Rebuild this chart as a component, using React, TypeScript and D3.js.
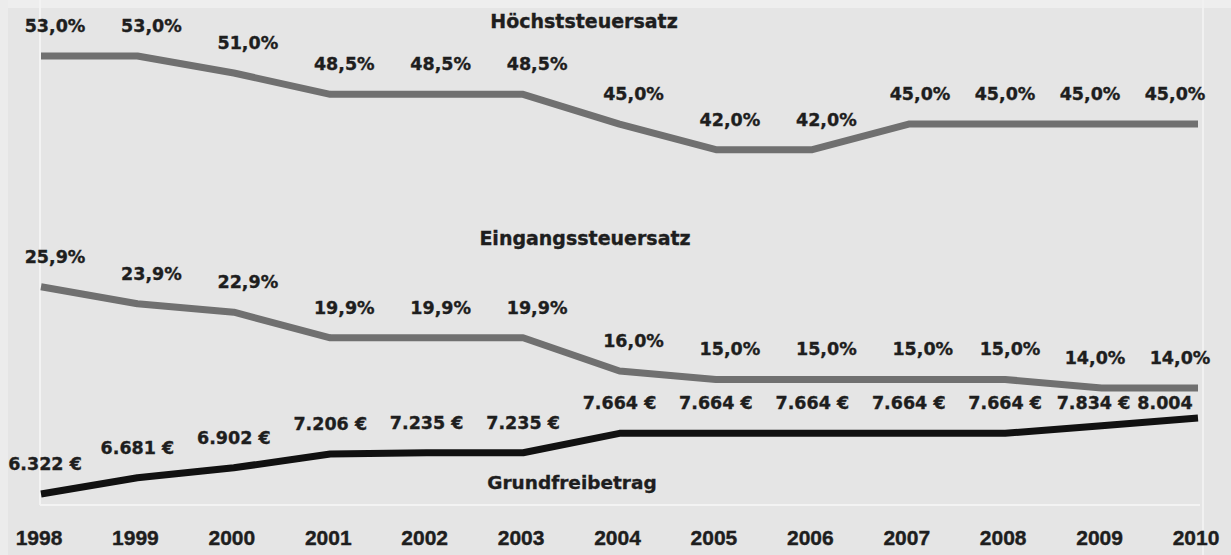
import React from "react";
import * as d3 from "d3";

const years = ["1998","1999","2000","2001","2002","2003","2004","2005","2006","2007","2008","2009","2010"];
const hoechst = [53.0, 53.0, 51.0, 48.5, 48.5, 48.5, 45.0, 42.0, 42.0, 45.0, 45.0, 45.0, 45.0];
const eingang = [25.9, 23.9, 22.9, 19.9, 19.9, 19.9, 16.0, 15.0, 15.0, 15.0, 15.0, 14.0, 14.0];
const grundfrei = [6322, 6681, 6902, 7206, 7235, 7235, 7664, 7664, 7664, 7664, 7664, 7834, 8004];
const seriesNames = ["Höchststeuersatz", "Eingangssteuersatz", "Grundfreibetrag"];

const W = 1231, H = 555;
const LABEL_FONT = "'DejaVu Sans', sans-serif";
const YEAR_FONT = "'Liberation Sans', Arial, sans-serif";
const TXT = "#1e1e1e";

// place label centres: natural position, then push left (right-to-left) to keep a gap
function placeLabels(natural: number[], widths: number[], rightEdge: number, gap: number) {
  const out = natural.slice();
  const n = out.length;
  if (out[n - 1] + widths[n - 1] / 2 > rightEdge) out[n - 1] = rightEdge - widths[n - 1] / 2;
  for (let i = n - 2; i >= 0; i--) {
    const limit = out[i + 1] - widths[i + 1] / 2 - gap;
    if (out[i] + widths[i] / 2 > limit) out[i] = limit - widths[i] / 2;
  }
  return out;
}

export default function App() {
  const x = d3.scalePoint<string>().domain(years).range([41, 1198]);
  const yPct = d3.scaleLinear().domain([14, 53]).range([388, 56]);
  const yEur = d3.scaleLinear().domain([6322, 8004]).range([494, 418]);

  const fmtPct = (v: number) => v.toFixed(1).replace(".", ",") + "%";
  const fmtEur = (v: number) => d3.format(",")(v).replace(/,/g, ".") + " €";

  const linePct = d3.line<number>().x((_, i) => x(years[i])!).y((d) => yPct(d));
  const lineEur = d3.line<number>().x((_, i) => x(years[i])!).y((d) => yEur(d));

  const textStyle = {
    fontFamily: LABEL_FONT, fontWeight: "bold" as const, fontSize: 17.5, fill: TXT,
    stroke: TXT, strokeWidth: 0.35,
  };

  const pctLabels = (vals: number[], key: string, rightEdge: number) => {
    const strs = vals.map(fmtPct);
    const widths = strs.map(() => 62);
    const xs = placeLabels(vals.map((_, i) => x(years[i])! + 14), widths, rightEdge, 23);
    return vals.map((v, i) => (
      <text key={key + i} x={xs[i]} y={yPct(v) - 30} textAnchor="middle" dominantBaseline="central"
        {...textStyle}>{strs[i]}</text>
    ));
  };

  const eurStrs = grundfrei.map((v, i) => (i === grundfrei.length - 1 ? fmtEur(v).replace(" €", "") : fmtEur(v)));
  const eurWidths = eurStrs.map((s) => (s.length > 5 ? 73 : 62));
  const eurXs = placeLabels(grundfrei.map((_, i) => x(years[i])! + (i === 0 ? 4 : 0)), eurWidths, 1196, 4);
  const eurLabels = grundfrei.map((v, i) => {
    const ly = Math.max(yEur(v) - 30, yPct(eingang[i]) + 15);
    return (
      <text key={"e" + i} x={eurXs[i]} y={ly} textAnchor="middle" dominantBaseline="central"
        {...textStyle}>{eurStrs[i]}</text>
    );
  });

  return (
    <svg width={W} height={H} style={{ position: "absolute", left: 0, top: 0, display: "block" }}>
      <rect x={0} y={0} width={W} height={H} fill="#e5e5e5" />
      <rect x={0} y={0} width={W} height={8} fill="#eeeeee" />
      <rect x={0} y={0} width={8} height={H} fill="#ececec" />
      <line x1={40} x2={40} y1={0} y2={505} stroke="#f3f3f3" strokeWidth={2} />
      <line x1={1203} x2={1203} y1={0} y2={555} stroke="#f1f1f1" strokeWidth={2} />
      <line x1={40} x2={1200} y1={505} y2={505} stroke="#f3f3f3" strokeWidth={2} />

      <path d={linePct(hoechst)!} fill="none" stroke="#707070" strokeWidth={7} strokeLinejoin="round" />
      <path d={linePct(eingang)!} fill="none" stroke="#707070" strokeWidth={7} strokeLinejoin="round" />
      <path d={lineEur(grundfrei)!} fill="none" stroke="#111" strokeWidth={7} strokeLinejoin="round" />

      {pctLabels(hoechst, "h", 1206)}
      {pctLabels(eingang, "g", 1211)}
      {eurLabels}

      <text x={584} y={21} textAnchor="middle" dominantBaseline="central" {...textStyle} fontSize={19}>{seriesNames[0]}</text>
      <text x={585} y={238} textAnchor="middle" dominantBaseline="central" {...textStyle} fontSize={19}>{seriesNames[1]}</text>
      <text x={572} y={482} textAnchor="middle" dominantBaseline="central" {...textStyle} fontSize={18.5}>{seriesNames[2]}</text>

      {years.map((yr) => (
        <text key={yr} x={x(yr)! - 2} y={537} textAnchor="middle" dominantBaseline="central"
          fontFamily={YEAR_FONT} fontWeight="bold" fontSize={21} fill={TXT} stroke={TXT} strokeWidth={0.4}>{yr}</text>
      ))}
    </svg>
  );
}
